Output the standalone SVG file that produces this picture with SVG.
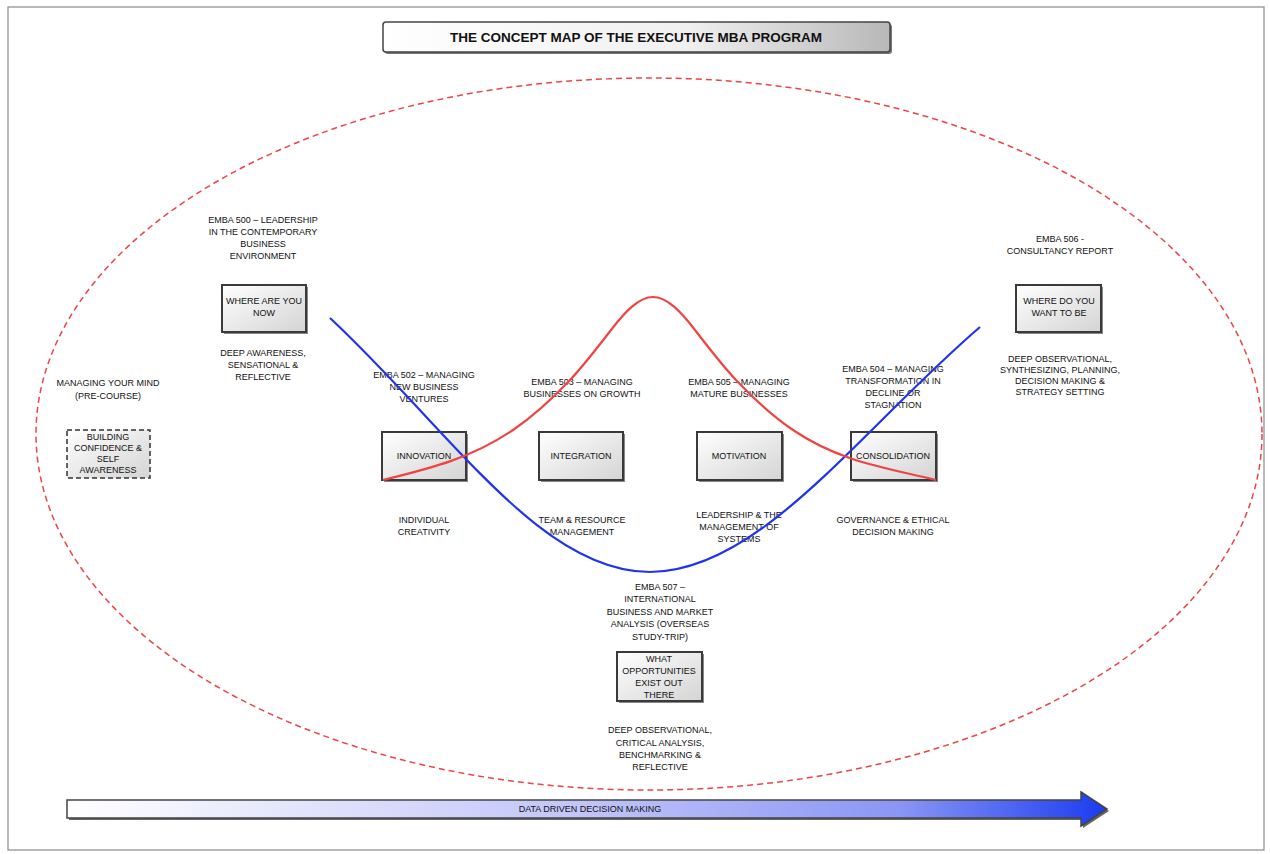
<svg xmlns="http://www.w3.org/2000/svg" width="1270" height="854" viewBox="0 0 1270 854">
<defs>
<linearGradient id="boxg" x1="0" y1="0" x2="1" y2="1">
<stop offset="0" stop-color="#ffffff"/><stop offset="1" stop-color="#d4d4d4"/>
</linearGradient>
<linearGradient id="titleg" x1="0" y1="0" x2="1" y2="0">
<stop offset="0" stop-color="#ffffff"/><stop offset="0.6" stop-color="#f0f0f0"/><stop offset="1" stop-color="#b8b8b8"/>
</linearGradient>
<linearGradient id="arrowg" x1="0" y1="0" x2="1" y2="0">
<stop offset="0" stop-color="#ffffff"/><stop offset="0.5" stop-color="#c0c4f8"/><stop offset="0.8" stop-color="#8a96f4"/><stop offset="1" stop-color="#1a3cf0"/>
</linearGradient>
<style>
.t{font-family:"Liberation Sans",Arial,sans-serif;font-size:9px;fill:#111;text-anchor:middle}
.bx{fill:url(#boxg);stroke:#3a3a3a;stroke-width:2}
.sh{fill:#888}
</style>
</defs>
<rect x="0" y="0" width="1270" height="854" fill="#fff"/>
<rect x="8" y="7" width="1256" height="843" fill="none" stroke="#8a8a8a" stroke-width="1.2"/>

<g id="title">
<rect x="385" y="24" width="507" height="30" rx="3" fill="#777"/>
<rect x="383" y="22" width="507" height="30" rx="3" fill="url(#titleg)" stroke="#444" stroke-width="1.5"/>
<text x="636" y="42" style="font-family:'Liberation Sans',Arial,sans-serif;font-size:13.5px;font-weight:bold;fill:#111;text-anchor:middle">THE CONCEPT MAP OF THE EXECUTIVE MBA PROGRAM</text>
</g>

<ellipse id="scope" cx="649" cy="434" rx="613" ry="356" fill="none" stroke="#ee4444" stroke-width="1.5" stroke-dasharray="6 4"/>

<g id="pre-course">
<text class="t" x="108" y="386">MANAGING YOUR MIND</text>
<text class="t" x="108" y="399">(PRE-COURSE)</text>
<rect x="67" y="430" width="83" height="48" fill="url(#boxg)" stroke="#333" stroke-width="1.5" stroke-dasharray="5 3"/>
<text class="t" x="108" y="440">BUILDING</text>
<text class="t" x="108" y="451">CONFIDENCE &amp;</text>
<text class="t" x="108" y="462">SELF</text>
<text class="t" x="108" y="473">AWARENESS</text>
</g>

<g id="now">
<text class="t" x="263" y="223">EMBA 500 – LEADERSHIP</text>
<text class="t" x="263" y="235">IN THE CONTEMPORARY</text>
<text class="t" x="263" y="247">BUSINESS</text>
<text class="t" x="263" y="259">ENVIRONMENT</text>
<rect class="sh" x="224" y="287" width="84" height="47"/>
<rect class="bx" x="222" y="285" width="84" height="47"/>
<text class="t" x="264" y="304">WHERE ARE YOU</text>
<text class="t" x="264" y="316">NOW</text>
<text class="t" x="263" y="356">DEEP AWARENESS,</text>
<text class="t" x="263" y="368">SENSATIONAL &amp;</text>
<text class="t" x="263" y="380">REFLECTIVE</text>
</g>

<g id="innovation">
<text class="t" x="424" y="378">EMBA 502 – MANAGING</text>
<text class="t" x="424" y="390">NEW BUSINESS</text>
<text class="t" x="424" y="402">VENTURES</text>
<rect class="sh" x="384" y="434" width="84" height="48"/>
<rect class="bx" x="382" y="432" width="84" height="48"/>
<text class="t" x="424" y="459">INNOVATION</text>
<text class="t" x="424" y="523">INDIVIDUAL</text>
<text class="t" x="424" y="535">CREATIVITY</text>
</g>

<g id="integration">
<text class="t" x="582" y="385">EMBA 503 – MANAGING</text>
<text class="t" x="582" y="397">BUSINESSES ON GROWTH</text>
<rect class="sh" x="541" y="434" width="84" height="48"/>
<rect class="bx" x="539" y="432" width="84" height="48"/>
<text class="t" x="581" y="459">INTEGRATION</text>
<text class="t" x="582" y="523">TEAM &amp; RESOURCE</text>
<text class="t" x="582" y="535">MANAGEMENT</text>
</g>

<g id="motivation">
<text class="t" x="739" y="385">EMBA 505 – MANAGING</text>
<text class="t" x="739" y="397">MATURE BUSINESSES</text>
<rect class="sh" x="699" y="434" width="85" height="48"/>
<rect class="bx" x="697" y="432" width="85" height="48"/>
<text class="t" x="739" y="459">MOTIVATION</text>
<text class="t" x="739" y="518">LEADERSHIP &amp; THE</text>
<text class="t" x="739" y="530">MANAGEMENT OF</text>
<text class="t" x="739" y="542">SYSTEMS</text>
</g>

<g id="consolidation">
<text class="t" x="893" y="372">EMBA 504 – MANAGING</text>
<text class="t" x="893" y="384">TRANSFORMATION IN</text>
<text class="t" x="893" y="396">DECLINE OR</text>
<text class="t" x="893" y="408">STAGNATION</text>
<rect class="sh" x="853" y="434" width="85" height="48"/>
<rect class="bx" x="851" y="432" width="85" height="48"/>
<text class="t" x="893" y="459">CONSOLIDATION</text>
<text class="t" x="893" y="523">GOVERNANCE &amp; ETHICAL</text>
<text class="t" x="893" y="535">DECISION MAKING</text>
</g>

<g id="future">
<text class="t" x="1060" y="242">EMBA 506 -</text>
<text class="t" x="1060" y="254">CONSULTANCY REPORT</text>
<rect class="sh" x="1018" y="287" width="85" height="47"/>
<rect class="bx" x="1016" y="285" width="85" height="47"/>
<text class="t" x="1059" y="304">WHERE DO YOU</text>
<text class="t" x="1059" y="316">WANT TO BE</text>
<text class="t" x="1060" y="362">DEEP OBSERVATIONAL,</text>
<text class="t" x="1060" y="373">SYNTHESIZING, PLANNING,</text>
<text class="t" x="1060" y="384">DECISION MAKING &amp;</text>
<text class="t" x="1060" y="395">STRATEGY SETTING</text>
</g>

<g id="opportunities">
<text class="t" x="660" y="590">EMBA 507 –</text>
<text class="t" x="660" y="602">INTERNATIONAL</text>
<text class="t" x="660" y="615">BUSINESS AND MARKET</text>
<text class="t" x="660" y="627">ANALYSIS (OVERSEAS</text>
<text class="t" x="660" y="640">STUDY-TRIP)</text>
<rect class="sh" x="619" y="654" width="85" height="49"/>
<rect class="bx" x="617" y="652" width="85" height="49"/>
<text class="t" x="659" y="662">WHAT</text>
<text class="t" x="659" y="674">OPPORTUNITIES</text>
<text class="t" x="659" y="686">EXIST OUT</text>
<text class="t" x="659" y="698">THERE</text>
<text class="t" x="660" y="733">DEEP OBSERVATIONAL,</text>
<text class="t" x="660" y="746">CRITICAL ANALYSIS,</text>
<text class="t" x="660" y="758">BENCHMARKING &amp;</text>
<text class="t" x="660" y="770">REFLECTIVE</text>
</g>

<g id="data-arrow">
<path d="M69,802 L1083,802 L1083,794 L1109,811 L1083,828 L1083,820 L69,820 Z" fill="#666"/>
<path d="M67,800 L1081,800 L1081,792 L1107,809 L1081,826 L1081,818 L67,818 Z" fill="url(#arrowg)" stroke="#444" stroke-width="1.5"/>
<text class="t" x="590" y="812">DATA DRIVEN DECISION MAKING</text>
</g>

<g id="connectors" fill="none" stroke-width="2.2">
<path d="M330,318 C450,430 540,572 650,572 C760,572 860,430 980,327" stroke="#2233ee"/>
<path stroke="#ee4444" d="M383,480 C426.3,469.2 469.7,459.4 513,430 C532,417.1 551,400.1 570,380 C583.7,365.5 597.3,347.8 611,330 C625,311.8 639,297 653,297 C667,297 681,311.8 695,330 C708.7,347.8 722.3,365.5 736,380 C755,400.1 774,417.1 793,430 C840.7,462.4 888.3,468.1 936,480"/>
</g>
</svg>
